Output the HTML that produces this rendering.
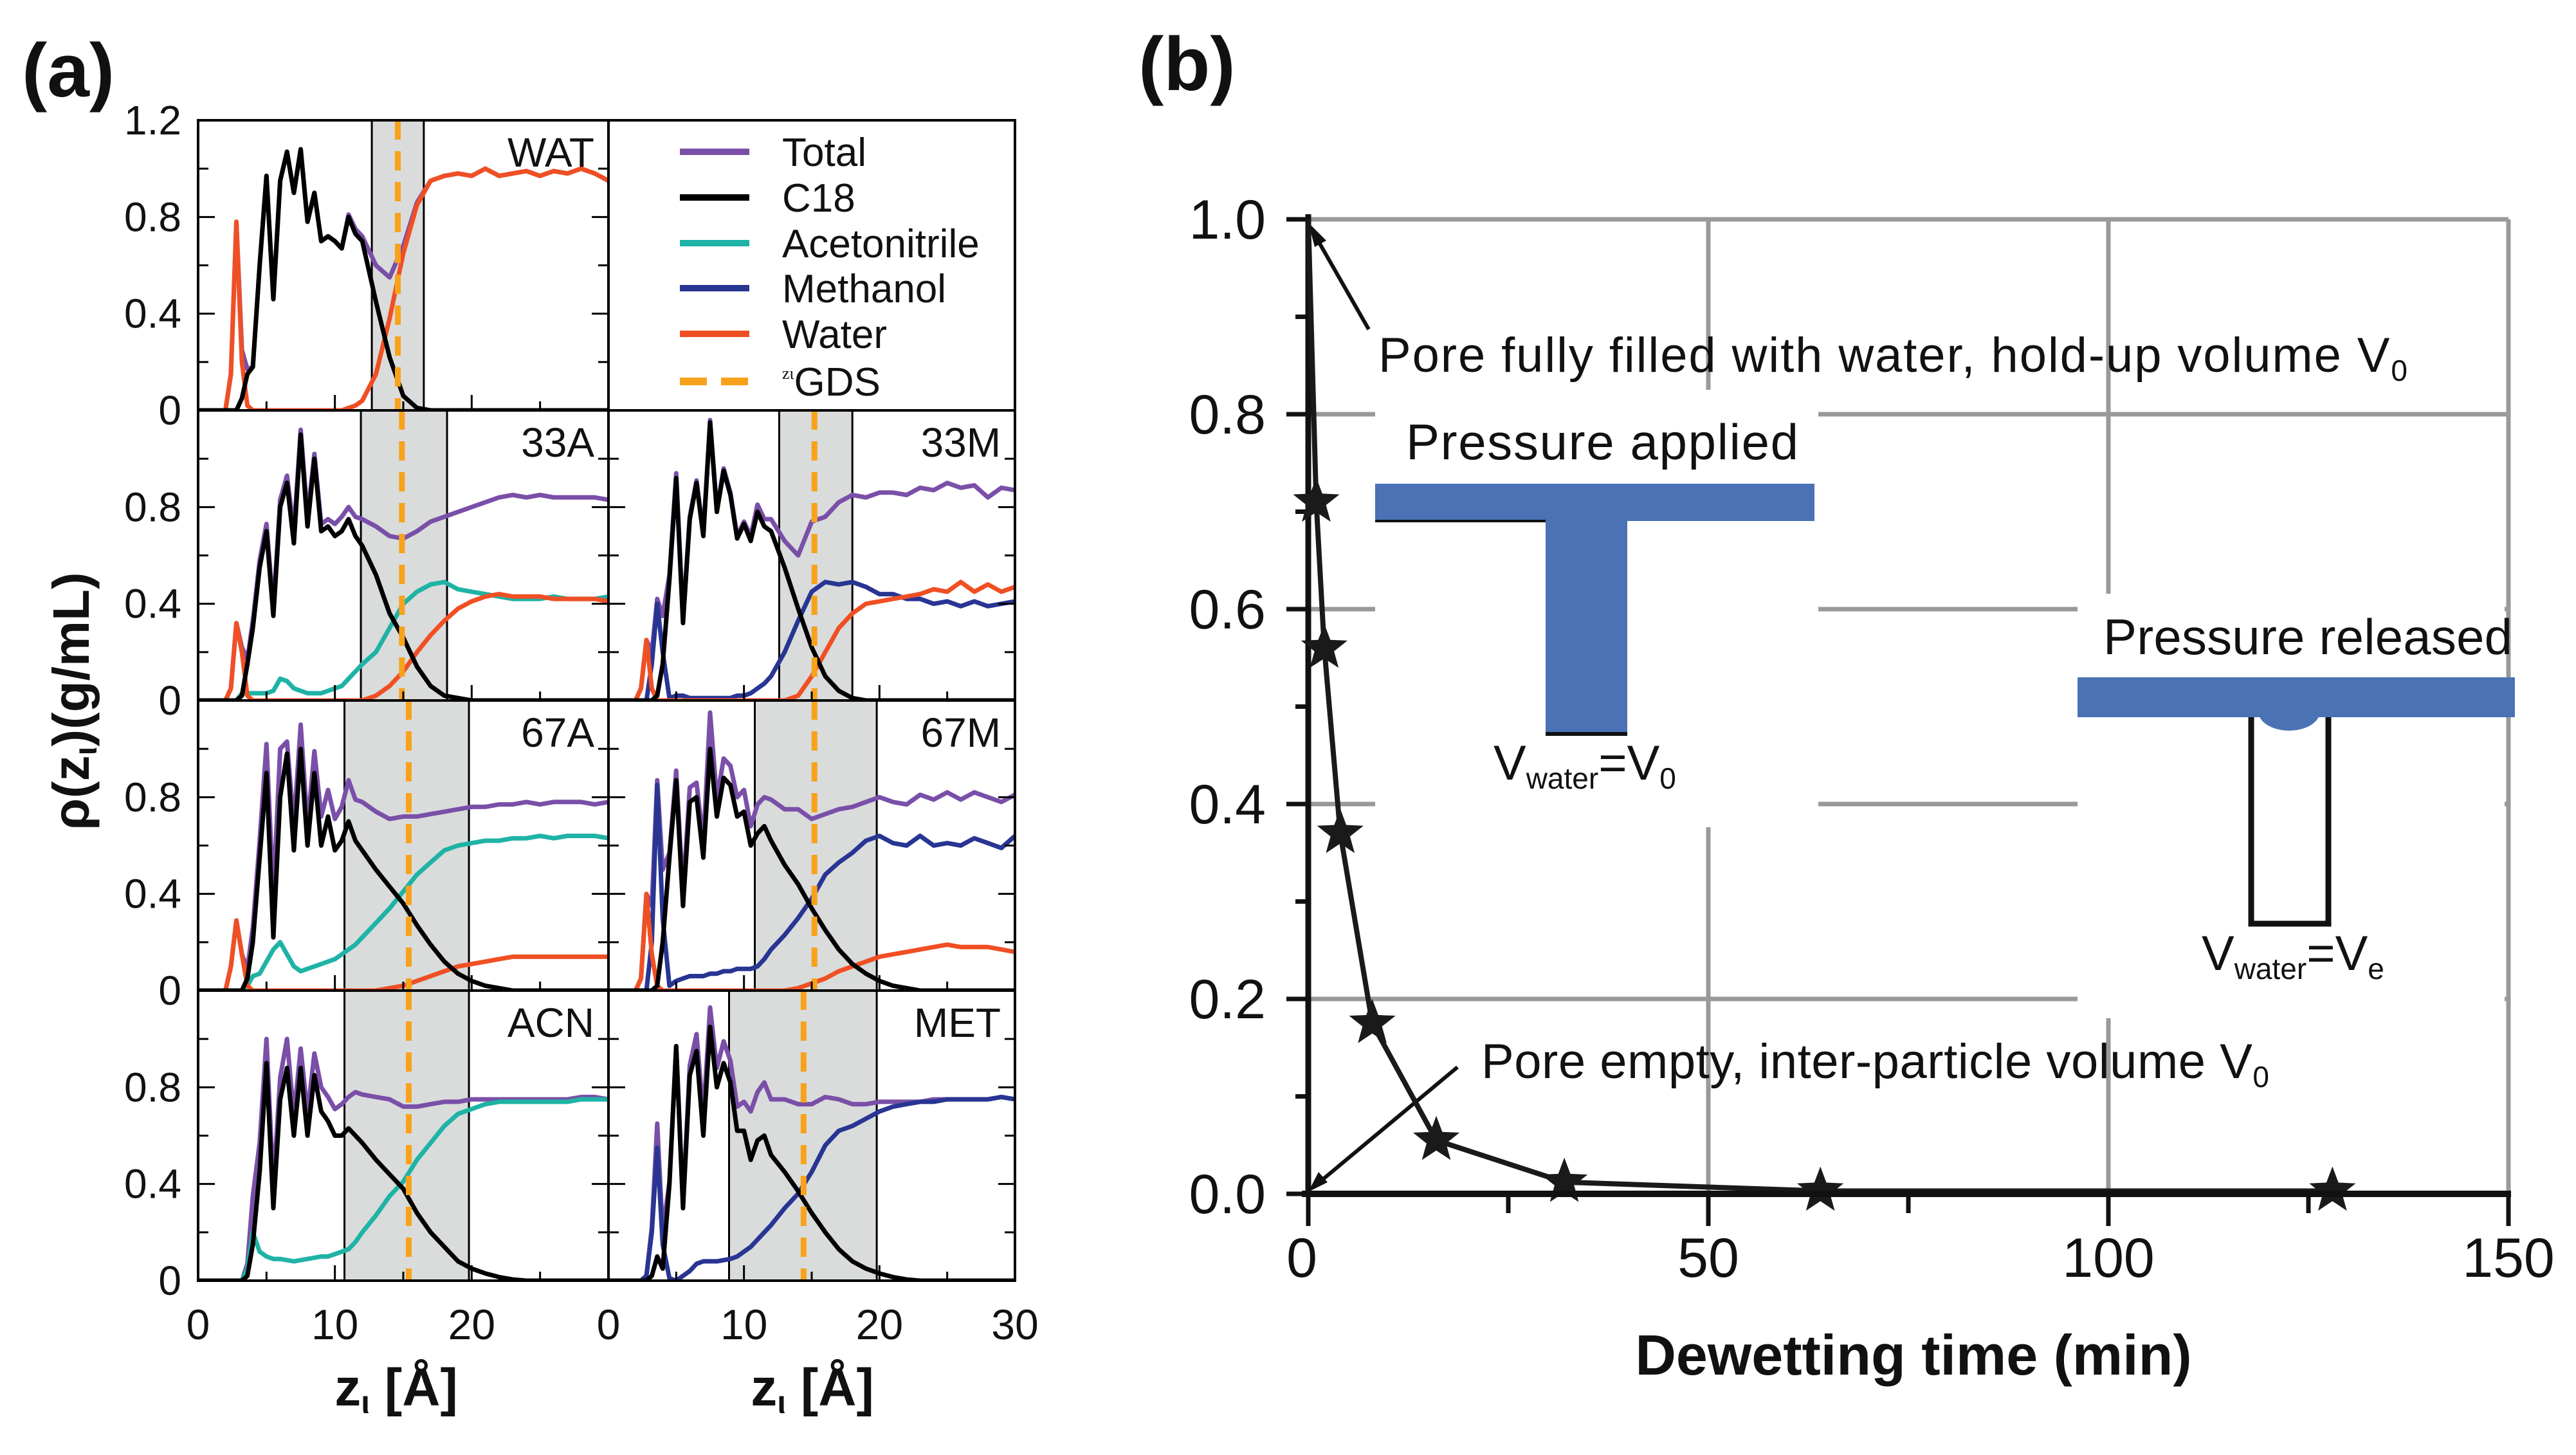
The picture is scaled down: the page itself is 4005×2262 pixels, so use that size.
<!DOCTYPE html>
<html><head><meta charset="utf-8"><style>
html,body{margin:0;padding:0;background:#fff}
svg{display:block}
text{font-family:"Liberation Sans",sans-serif;fill:#111}
.n{font-family:"Liberation Sans Narrow","Liberation Sans",sans-serif}
</style></head><body>
<svg id="fig" width="4005" height="2262" viewBox="0 0 4005 2262" xmlns="http://www.w3.org/2000/svg">
<g id="pa"></g>
<g id="pb"></g>
</svg>
<script>
// ---------- Panel (a) data ----------
const zGrid=[0,1,2,2.4,2.8,3.2,3.6,4,4.5,5,5.5,6,6.5,7,7.5,8,8.5,9,9.5,10,10.5,11,11.5,12,13,14,15,16,17,18,19,20,21,22,23,24,25,26,27,28,29,30];
const xTicksA=[0,10,20,30];
const yTicksA=[0,0.4,0.8,1.2];
// WAT
const watTotal=[0,0,0,0.15,0.78,0.25,0.17,0.18,0.6,0.97,0.46,0.95,1.07,0.9,1.08,0.78,0.9,0.7,0.72,0.7,0.67,0.81,0.75,0.72,0.6,0.55,0.68,0.86,0.95,0.97,0.98,0.97,1.0,0.97,0.98,0.99,0.97,0.99,0.98,1.0,0.98,0.95];
const watC18=[0,0,0,0,0,0.05,0.15,0.18,0.6,0.97,0.46,0.95,1.07,0.9,1.08,0.78,0.9,0.7,0.72,0.7,0.67,0.8,0.73,0.7,0.45,0.22,0.06,0.01,0,0,0,0,0,0,0,0,0,0,0,0,0,0];
const watWater=[0,0,0,0.15,0.78,0.2,0.02,0,0,0,0,0,0,0,0,0,0,0,0,0,0,0.01,0.02,0.04,0.15,0.38,0.65,0.85,0.95,0.97,0.98,0.97,1.0,0.97,0.98,0.99,0.97,0.99,0.98,1.0,0.98,0.95];
// 33A
const a33Total=[0,0,0,0.05,0.32,0.22,0.17,0.33,0.58,0.73,0.38,0.83,0.93,0.7,1.12,0.76,1.02,0.73,0.75,0.73,0.76,0.8,0.76,0.75,0.72,0.68,0.67,0.7,0.74,0.76,0.78,0.8,0.82,0.84,0.85,0.84,0.85,0.84,0.84,0.84,0.84,0.83];
const a33C18=[0,0,0,0,0,0.02,0.15,0.3,0.55,0.7,0.35,0.8,0.9,0.65,1.1,0.72,1.0,0.7,0.72,0.68,0.7,0.75,0.68,0.64,0.52,0.36,0.26,0.14,0.06,0.02,0.01,0,0,0,0,0,0,0,0,0,0,0];
const a33Acn=[0,0,0,0,0,0.03,0.03,0.03,0.03,0.03,0.04,0.09,0.08,0.05,0.04,0.03,0.03,0.03,0.04,0.05,0.06,0.09,0.12,0.15,0.2,0.3,0.4,0.45,0.48,0.49,0.46,0.45,0.44,0.43,0.42,0.42,0.42,0.43,0.42,0.42,0.42,0.43];
const a33Water=[0,0,0,0.05,0.32,0.2,0.02,0,0,0,0,0,0,0,0,0,0,0,0,0,0,0,0,0,0.02,0.06,0.12,0.2,0.27,0.33,0.38,0.41,0.43,0.44,0.43,0.43,0.43,0.42,0.42,0.42,0.42,0.41];
// 33M
const m33Total=[0,0,0,0.05,0.25,0.2,0.42,0.35,0.52,0.94,0.34,0.76,0.91,0.69,1.16,0.79,0.96,0.86,0.68,0.74,0.68,0.81,0.75,0.75,0.66,0.6,0.74,0.76,0.82,0.85,0.84,0.86,0.86,0.85,0.88,0.87,0.9,0.88,0.89,0.84,0.88,0.87];
const m33C18=[0,0,0,0,0,0,0.02,0.15,0.5,0.92,0.32,0.75,0.9,0.68,1.15,0.78,0.95,0.85,0.67,0.73,0.66,0.78,0.72,0.7,0.55,0.38,0.22,0.1,0.04,0.01,0,0,0,0,0,0,0,0,0,0,0,0];
const m33Meth=[0,0,0,0,0,0.15,0.4,0.2,0.01,0.02,0.02,0.01,0.01,0.01,0.01,0.01,0.01,0.01,0.02,0.02,0.03,0.05,0.07,0.1,0.2,0.33,0.45,0.49,0.48,0.49,0.47,0.44,0.44,0.42,0.42,0.4,0.41,0.39,0.41,0.39,0.4,0.41];
const m33Water=[0,0,0,0.05,0.25,0.05,0,0,0,0,0,0,0,0,0,0,0,0,0,0,0,0,0,0,0,0.02,0.1,0.2,0.3,0.36,0.4,0.41,0.42,0.43,0.44,0.46,0.45,0.49,0.45,0.48,0.45,0.47];
// 67A
const a67Total=[0,0,0,0.1,0.29,0.15,0.09,0.26,0.62,1.02,0.39,1.0,1.03,0.68,1.1,0.68,0.99,0.72,0.83,0.71,0.76,0.87,0.79,0.78,0.74,0.71,0.72,0.72,0.73,0.74,0.75,0.76,0.76,0.77,0.77,0.78,0.77,0.78,0.78,0.78,0.77,0.78];
const a67C18=[0,0,0,0,0,0,0.05,0.2,0.55,0.9,0.22,0.8,0.98,0.58,1.0,0.6,0.9,0.6,0.72,0.58,0.62,0.7,0.62,0.58,0.5,0.43,0.36,0.27,0.19,0.12,0.07,0.04,0.02,0.01,0,0,0,0,0,0,0,0];
const a67Acn=[0,0,0,0,0,0,0.02,0.06,0.07,0.12,0.17,0.2,0.15,0.1,0.08,0.09,0.1,0.11,0.12,0.13,0.15,0.17,0.19,0.22,0.28,0.34,0.41,0.48,0.53,0.58,0.6,0.61,0.62,0.62,0.63,0.63,0.64,0.63,0.64,0.64,0.64,0.63];
const a67Water=[0,0,0,0.1,0.29,0.15,0.02,0,0,0,0,0,0,0,0,0,0,0,0,0,0,0,0,0,0,0.01,0.02,0.04,0.06,0.08,0.1,0.11,0.12,0.13,0.14,0.14,0.14,0.14,0.14,0.14,0.14,0.14];
// 67M
const m67Total=[0,0,0,0.05,0.4,0.35,0.87,0.5,0.57,0.91,0.4,0.84,0.86,0.61,1.15,0.79,0.96,0.93,0.8,0.83,0.68,0.77,0.8,0.79,0.75,0.75,0.71,0.73,0.75,0.76,0.78,0.8,0.78,0.77,0.81,0.79,0.82,0.79,0.82,0.8,0.78,0.81];
const m67C18=[0,0,0,0,0,0,0.02,0.2,0.55,0.87,0.35,0.78,0.8,0.55,1.0,0.72,0.88,0.85,0.72,0.74,0.6,0.65,0.68,0.62,0.52,0.44,0.34,0.25,0.17,0.11,0.07,0.04,0.02,0.01,0,0,0,0,0,0,0,0];
const m67Meth=[0,0,0,0,0,0.2,0.85,0.3,0.02,0.04,0.05,0.06,0.06,0.06,0.07,0.07,0.08,0.08,0.09,0.09,0.09,0.1,0.13,0.17,0.23,0.3,0.38,0.48,0.53,0.57,0.62,0.64,0.61,0.6,0.64,0.6,0.61,0.6,0.63,0.61,0.59,0.64];
const m67Water=[0,0,0,0.05,0.4,0.15,0.02,0,0,0,0,0,0,0,0,0,0,0,0,0,0,0,0,0,0,0.01,0.03,0.05,0.08,0.1,0.12,0.14,0.15,0.16,0.17,0.18,0.19,0.18,0.18,0.18,0.17,0.16];
// ACN
const acnTotal=[0,0,0,0,0,0,0.07,0.35,0.57,1.0,0.39,0.84,1.0,0.68,0.96,0.69,0.94,0.8,0.76,0.71,0.73,0.76,0.78,0.77,0.76,0.75,0.72,0.72,0.73,0.74,0.74,0.75,0.75,0.75,0.75,0.75,0.75,0.75,0.75,0.76,0.76,0.75];
const acnC18=[0,0,0,0,0,0,0.02,0.15,0.45,0.9,0.3,0.75,0.88,0.6,0.88,0.6,0.85,0.7,0.66,0.6,0.6,0.63,0.6,0.57,0.5,0.44,0.38,0.28,0.2,0.14,0.08,0.05,0.03,0.015,0.005,0,0,0,0,0,0,0];
const acnAcn=[0,0,0,0,0,0,0.05,0.2,0.12,0.1,0.09,0.09,0.085,0.08,0.085,0.09,0.095,0.1,0.1,0.11,0.12,0.13,0.16,0.2,0.27,0.35,0.41,0.5,0.57,0.64,0.69,0.71,0.73,0.74,0.74,0.74,0.74,0.74,0.74,0.75,0.75,0.75];
// MET
const metTotal=[0,0,0,0,0.02,0.22,0.65,0.2,0.41,0.97,0.32,0.89,1.02,0.68,1.13,0.88,0.99,0.91,0.72,0.74,0.7,0.78,0.82,0.75,0.75,0.73,0.73,0.76,0.75,0.73,0.73,0.74,0.74,0.74,0.74,0.75,0.75,0.75,0.75,0.75,0.76,0.75];
const metC18=[0,0,0,0,0,0.02,0.1,0.05,0.4,0.97,0.3,0.85,0.95,0.6,1.05,0.8,0.9,0.82,0.62,0.62,0.5,0.58,0.6,0.52,0.45,0.37,0.28,0.2,0.13,0.08,0.05,0.03,0.015,0.005,0,0,0,0,0,0,0,0];
const metMeth=[0,0,0,0,0.02,0.2,0.55,0.15,0.01,0,0.02,0.04,0.07,0.08,0.08,0.08,0.085,0.09,0.1,0.12,0.14,0.17,0.2,0.23,0.3,0.36,0.45,0.56,0.62,0.64,0.67,0.7,0.72,0.73,0.74,0.74,0.75,0.75,0.75,0.75,0.76,0.75];
// shaded interface regions and GDS positions
const shadeStart=[12.7,11.9,12.6,10.7,10.8,10.7,8.9];
const shadeEnd=[16.5,18.2,18.0,19.8,19.8,19.8,19.8];
const gdsPos=[14.6,14.9,15.2,15.4,15.2,15.4,14.4];
const panelNames=["WAT","33A","33M","67A","67M","ACN","MET"];

// ---------- Panel (b) data ----------
const dewetTime=[0,1,2,4,8,16,32,64,128];
const dewetFrac=[1.0,0.71,0.56,0.37,0.175,0.055,0.012,0.003,0.003];
const xTicksB=[0,50,100,150];
const yTicksB=[0,0.2,0.4,0.6,0.8,1.0];

const NS="http://www.w3.org/2000/svg";
function mk(tag,attrs,parent){const e=document.createElementNS(NS,tag);for(const k in attrs)e.setAttribute(k,attrs[k]);parent.appendChild(e);return e;}
const C={total:"#7a4fa8",c18:"#000",acn:"#1fb3a6",meth:"#283593",water:"#f04f24",gds:"#f8a21c"};

// ---------- Panel (a) ----------
const pa=document.getElementById('pa');
const colX=[308,946],colW=[638,632];
const rowTop=187,rowH=451;
function cellGeom(r,c){return {x0:colX[c],w:colW[c],top:rowTop+r*rowH,bot:rowTop+(r+1)*rowH};}
function sx(g,z){return g.x0+z/30*g.w;}
function sy(g,v){return g.bot-v/1.2*g.h;}
const cells=[[0,0],[1,0],[1,1],[2,0],[2,1],[3,0],[3,1]];
const seriesSets=[
 [[watTotal,'total'],[watWater,'water'],[watC18,'c18']],
 [[a33Total,'total'],[a33Acn,'acn'],[a33Water,'water'],[a33C18,'c18']],
 [[m33Total,'total'],[m33Meth,'meth'],[m33Water,'water'],[m33C18,'c18']],
 [[a67Total,'total'],[a67Acn,'acn'],[a67Water,'water'],[a67C18,'c18']],
 [[m67Total,'total'],[m67Meth,'meth'],[m67Water,'water'],[m67C18,'c18']],
 [[acnTotal,'total'],[acnAcn,'acn'],[acnC18,'c18']],
 [[metTotal,'total'],[metMeth,'meth'],[metC18,'c18']]
];
cells.forEach((rc,i)=>{
  const g=cellGeom(rc[0],rc[1]);g.h=g.bot-g.top;
  const grp=mk('g',{},pa);
  
  
  const cp='clip'+i;
  const cl=mk('clipPath',{id:cp},grp);mk('rect',{x:g.x0,y:g.top,width:g.w,height:g.h},cl);
  const sh=mk('rect',{x:sx(g,shadeStart[i]),y:g.top,width:sx(g,shadeEnd[i])-sx(g,shadeStart[i]),height:g.h,fill:"#d9dcdb",stroke:"#000","stroke-width":3},grp);
  
  
  const lines=mk('g',{'clip-path':'url(#'+cp+')'},grp);
  seriesSets[i].forEach(s=>{
    const d=zGrid.map((z,k)=>(k?'L':'M')+sx(g,z).toFixed(1)+','+sy(g,s[0][k]).toFixed(1)).join('');
    const p=mk('path',{d:d,fill:'none',stroke:C[s[1]],'stroke-width':7,'stroke-linejoin':'round'},lines);
    
    
  });
  const gl=mk('line',{x1:sx(g,gdsPos[i]),x2:sx(g,gdsPos[i]),y1:g.top,y2:g.bot,stroke:C.gds,'stroke-width':9,'stroke-dasharray':'30,18'},grp);
  
  
  for(let v=0.2;v<1.2;v+=0.2){const y=sy(g,v);const L=(Math.round(v*10)%4===0)?26:16;
    mk('line',{x1:g.x0,x2:g.x0+L,y1:y,y2:y,stroke:'#000','stroke-width':3},grp);
    mk('line',{x1:g.x0+g.w,x2:g.x0+g.w-L,y1:y,y2:y,stroke:'#000','stroke-width':3},grp);}
  for(let z=5;z<30;z+=5){const x=sx(g,z);mk('line',{x1:x,x2:x,y1:g.bot,y2:g.bot-(z%10?14:24),stroke:'#000','stroke-width':3},grp);}
  mk('rect',{x:g.x0,y:g.top,width:g.w,height:g.h,fill:'none',stroke:'#000','stroke-width':4},grp);
  const t=mk('text',{x:g.x0+g.w-22,y:g.top+72,'text-anchor':'end','font-size':64,class:'n'},grp);
  t.textContent=panelNames[i];
  
  
  if(rc[1]===0){
    yTicksA.forEach(v=>{ if(v===1.2&&rc[0]!==0)return;
      const tt=mk('text',{x:282,y:sy(g,v)+22,'text-anchor':'end','font-size':64,class:'n'},grp);
      tt.textContent=(v===0?'0':v.toFixed(1));
      
      });
  }
  if(rc[0]===3){
    xTicksA.forEach(z=>{ if(z===30&&rc[1]===0)return;
      const tt=mk('text',{x:sx(g,z),y:2082,'text-anchor':'middle','font-size':66,class:'n'},grp);
      tt.textContent=z;
      
      });
  }
});
(function(){
  const g=cellGeom(0,1);
  const fr=mk('rect',{x:g.x0,y:g.top,width:g.w,height:g.bot-g.top,fill:'none',stroke:'#000','stroke-width':4},pa);
  
  
  const names=['Total','C18','Acetonitrile','Methanol','Water','GDS'];
  const keys=['total','c18','acn','meth','water','gds'];
  const ys=[236,307,378,448,519,593];
  names.forEach((n,k)=>{
    const l=mk('line',{x1:1057,x2:1165,y1:ys[k],y2:ys[k],stroke:C[keys[k]],'stroke-width':keys[k]==='gds'?12:10,'stroke-dasharray':keys[k]==='gds'?'42,22':'none'},pa);
    
    
    const t=mk('text',{x:1216,y:ys[k]+22,'font-size':62,class:'n'},pa);
    if(keys[k]==='gds'){t.innerHTML='<tspan font-size="26" dy="-26" font-family="Liberation Serif">zι</tspan><tspan dy="26">GDS</tspan>';}
    else t.textContent=n;
    
    
  });
})();
(function(){
  let t=mk('text',{x:34,y:150,'font-size':118,'font-weight':'bold'},pa);t.textContent='(a)';
  
  t=mk('text',{x:0,y:0,'font-size':80,'font-weight':'bold','text-anchor':'middle',transform:'translate(138,1090) rotate(-90)'},pa);
  t.innerHTML='ρ(z<tspan font-size="50" dy="12">ι</tspan><tspan dy="-12">)(g/mL)</tspan>';
  
  [616,1263].forEach(cx=>{const a=mk('text',{x:cx,y:2185,'font-size':82,'font-weight':'bold','text-anchor':'middle'},pa);
    a.innerHTML='z<tspan font-size="50" dy="12">ι</tspan><tspan dy="-12"> [Å]</tspan>';
    });
})();

// ---------- Panel (b) ----------
const pb=document.getElementById('pb');
const bx0=2034,bx1=3900,by0=1856,by1=341;
function bx(t){return bx0+t/150*(bx1-bx0);}
function by(v){return by0-v*(by0-by1);}
xTicksB.forEach(t=>{if(t===0)return;const l=mk('line',{x1:bx(t),x2:bx(t),y1:by1,y2:by0,stroke:'#999','stroke-width':7},pb);
  });
yTicksB.forEach(v=>{if(v===0)return;const l=mk('line',{x1:bx0,x2:bx1,y1:by(v),y2:by(v),stroke:'#999','stroke-width':7},pb);
  });
mk('rect',{x:2138,y:606,width:689,height:680,fill:'#fff'},pb);
mk('rect',{x:3230,y:923,width:664,height:660,fill:'#fff'},pb);
mk('line',{x1:bx0,x2:bx0,y1:by1-8,y2:by0,stroke:'#111','stroke-width':9},pb);
mk('line',{x1:bx0-10,x2:bx1+4,y1:by0,y2:by0,stroke:'#111','stroke-width':10},pb);
for(let v=0;v<=1.001;v+=0.1){const L=(Math.round(v*10)%2===0)?34:20;mk('line',{x1:bx0-L,x2:bx0,y1:by(v),y2:by(v),stroke:'#111','stroke-width':7},pb);}
for(let t=0;t<=150;t+=25){const L=(t%50===0)?50:30;mk('line',{x1:bx(t),x2:bx(t),y1:by0,y2:by0+L,stroke:'#111','stroke-width':7},pb);}
yTicksB.forEach(v=>{const t=mk('text',{x:1968,y:by(v)+30,'text-anchor':'end','font-size':86},pb);t.textContent=v.toFixed(1);
  });
xTicksB.forEach(v=>{const t=mk('text',{x:bx(v)-(v===0?10:0),y:1985,'text-anchor':'middle','font-size':86},pb);t.textContent=v;
  });
let tb=mk('text',{x:2975,y:2137,'text-anchor':'middle','font-size':88,'font-weight':'bold'},pb);tb.textContent='Dewetting time (min)';

tb=mk('text',{x:1770,y:140,'font-size':118,'font-weight':'bold'},pb);tb.textContent='(b)';

mk('rect',{x:2138,y:752,width:683,height:58,fill:'#4a72b5'},pb);
mk('rect',{x:2403,y:800,width:127,height:340,fill:'#4a72b5'},pb);
mk('line',{x1:2138,x2:2403,y1:810,y2:810,stroke:'#111','stroke-width':4},pb);
mk('line',{x1:2403,x2:2530,y1:1141,y2:1141,stroke:'#111','stroke-width':6},pb);
tb=mk('text',{x:2186,y:714,'font-size':78,textLength:610},pb);tb.textContent='Pressure applied';

tb=mk('text',{x:2322,y:1212,'font-size':76},pb);tb.innerHTML='V<tspan font-size="46" dy="14">water</tspan><tspan dy="-14">=V</tspan><tspan font-size="46" dy="14">0</tspan>';

mk('rect',{x:3500,y:1110,width:120,height:326,fill:'none',stroke:'#111','stroke-width':9},pb);
mk('rect',{x:3230,y:1053,width:680,height:62,fill:'#4a72b5'},pb);
mk('path',{d:'M3512,1112 A48,30 0 0 0 3606,1112 Z',fill:'#4a72b5'},pb);
tb=mk('text',{x:3270,y:1017,'font-size':78,textLength:636},pb);tb.textContent='Pressure released';

tb=mk('text',{x:3423,y:1508,'font-size':76},pb);tb.innerHTML='V<tspan font-size="46" dy="14">water</tspan><tspan dy="-14">=V</tspan><tspan font-size="46" dy="14">e</tspan>';

tb=mk('text',{x:2143,y:578,'font-size':76,textLength:1600},pb);tb.innerHTML='Pore fully filled with water, hold-up volume V<tspan font-size="46" dy="14">0</tspan>';

tb=mk('text',{x:2303,y:1676,'font-size':76,textLength:1225},pb);tb.innerHTML='Pore empty, inter-particle volume V<tspan font-size="46" dy="14">0</tspan>';

mk('line',{x1:2128,y1:512,x2:2040,y2:358,stroke:'#111','stroke-width':6},pb);
mk('path',{d:'M2034,346 L2062,374 L2044,384 Z',fill:'#111'},pb);
mk('line',{x1:2266,y1:1659,x2:2044,y2:1844,stroke:'#111','stroke-width':6},pb);
mk('path',{d:'M2034,1853 L2050,1822 L2064,1838 Z',fill:'#111'},pb);
const dl=mk('path',{d:dewetTime.map((t,k)=>(k?'L':'M')+bx(t).toFixed(1)+','+by(dewetFrac[k]).toFixed(1)).join(''),fill:'none',stroke:'#1a1a1a','stroke-width':8},pb);

function star(cx,cy,R){let p=[];for(let k=0;k<10;k++){const r=k%2?R*0.42:R;const a=-Math.PI/2+k*Math.PI/5;p.push((cx+r*Math.cos(a)).toFixed(1)+','+(cy+r*Math.sin(a)).toFixed(1));}return p.join(' ');}
dewetTime.forEach((t,k)=>{if(k===0)return;const s=mk('polygon',{points:star(bx(t),by(dewetFrac[k]),38),fill:'#1a1a1a'},pb);
  });
mk('line',{x1:bx0-10,x2:bx1+4,y1:by0,y2:by0,stroke:'#111','stroke-width':10},pb);
</script>
</body></html>
